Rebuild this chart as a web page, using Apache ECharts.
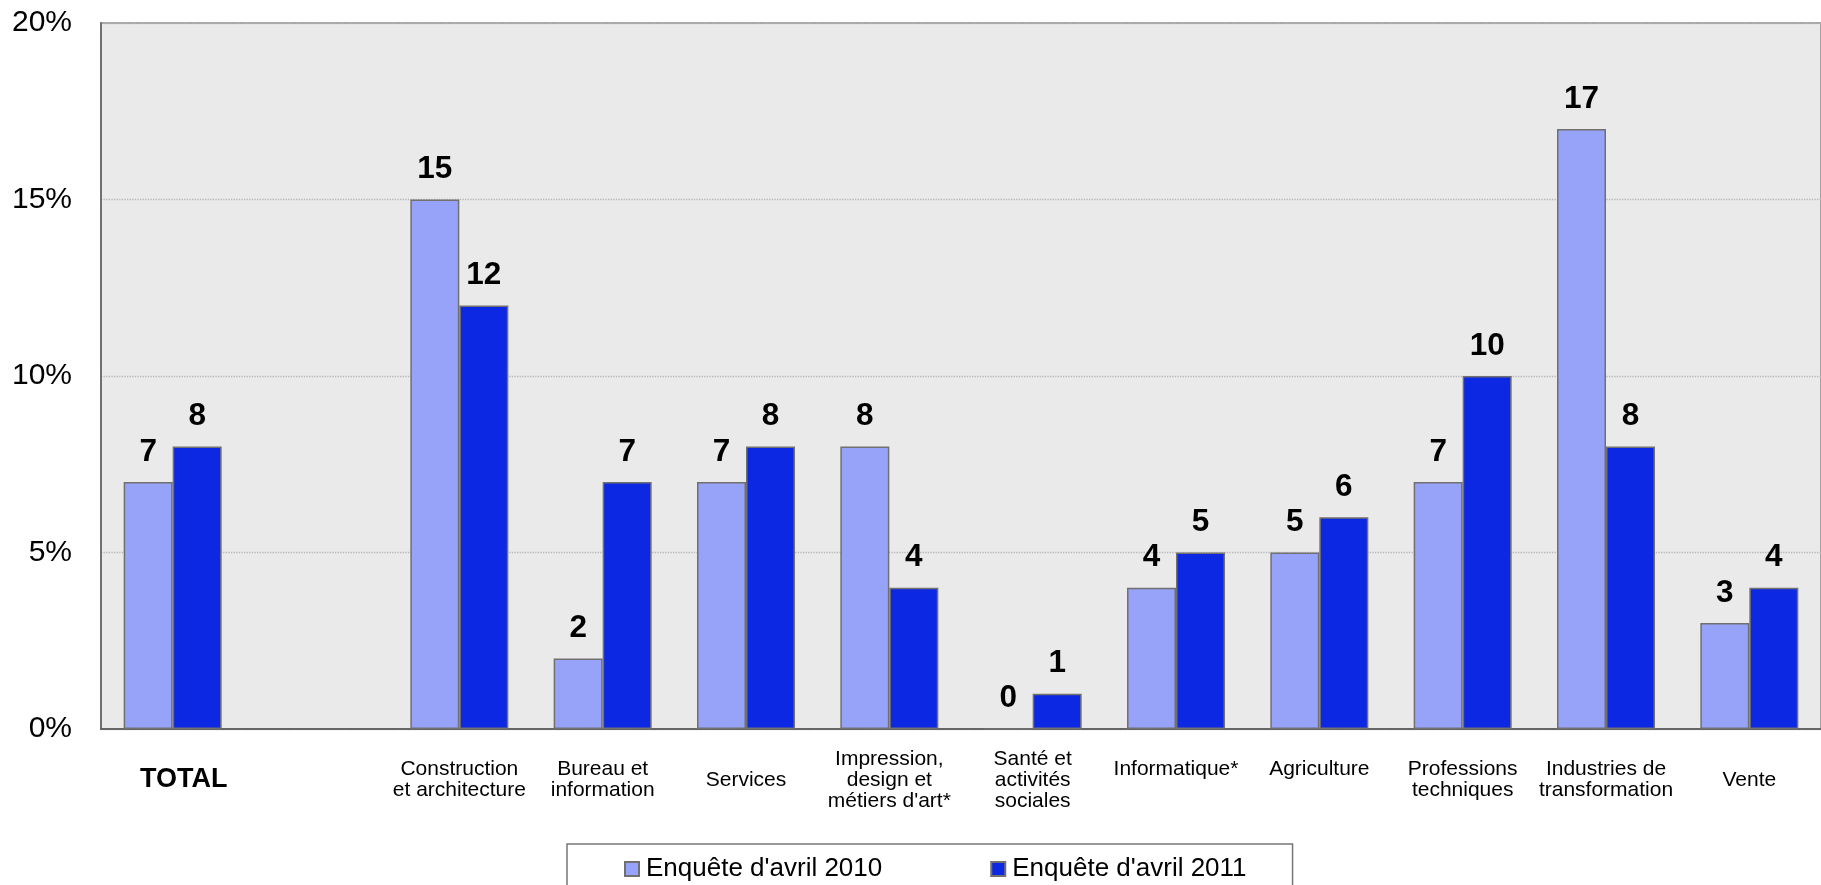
<!DOCTYPE html>
<html>
<head>
<meta charset="utf-8">
<script src="https://cdn.jsdelivr.net/npm/echarts@6/dist/echarts.min.js"></script>
<style>
html,body{margin:0;padding:0;background:#fff;}
#chart{width:1821px;height:885px;}
</style>
</head>
<body>
<div id="chart"></div>
<script>
const categories = ['TOTAL', '', 'Construction\net architecture', 'Bureau et\ninformation', 'Services',
  'Impression,\ndesign et\nmétiers d\'art*', 'Santé et\nactivités\nsociales', 'Informatique*',
  'Agriculture', 'Professions\ntechniques', 'Industries de\ntransformation', 'Vente'];
const topAlignedLabels = ['Informatique*', 'Agriculture'];
const series2010 = [7, '-', 15, 2, 7, 8, 0, 4, 5, 7, 17, 3];
const series2011 = [8, '-', 12, 7, 8, 4, 1, 5, 6, 10, 8, 4];
const seriesNames = ["Enquête d'avril 2010", "Enquête d'avril 2011"];
const yTicks = [0, 5, 10, 15, 20];

const FONT = '"Liberation Sans", Arial, Helvetica, sans-serif';
const chart = echarts.init(document.getElementById('chart'), null, {renderer: 'canvas'});

const barLabel = {
  show: true, position: 'top', distance: 14,
  fontFamily: FONT, fontSize: 31.5, fontWeight: 'bold', color: '#000'
};

chart.setOption({
  animation: false,
  backgroundColor: '#fff',
  grid: {
    left: 101, top: 23, right: -11, bottom: 156,
    show: true, backgroundColor: '#EAEAEA', borderColor: '#8a8a8a', borderWidth: 1.5
  },
  legend: {
    left: 567, top: 844,
    padding: [12, 46, 40, 57],
    itemGap: 108, itemWidth: 14, itemHeight: 14,
    borderColor: '#777', borderWidth: 1.5, backgroundColor: '#fff',
    icon: 'rect',
    textStyle: {fontFamily: FONT, fontSize: 26, color: '#000', padding: [0, 0, 0, 2]},
    data: seriesNames
  },
  xAxis: {
    type: 'category', data: categories,
    axisLine: {show: true, lineStyle: {color: '#666', width: 2}},
    axisTick: {show: false},
    axisLabel: {
      interval: 0, margin: 51, verticalAlign: 'middle',
      fontFamily: FONT, fontSize: 21, lineHeight: 21, color: '#000',
      formatter: function (v) {
        if (v === 'TOTAL') return '{t|' + v + '}';
        if (topAlignedLabels.indexOf(v) >= 0) return v + '\n\u00a0';
        return v;
      },
      rich: {t: {fontFamily: FONT, fontSize: 27, fontWeight: 'bold', color: '#000', padding: [0, 0, 0, 22]}}
    }
  },
  yAxis: {
    type: 'value', min: yTicks[0], max: yTicks[yTicks.length - 1], interval: 5,
    axisLine: {show: true, lineStyle: {color: '#707070', width: 2}},
    axisTick: {show: false},
    splitLine: {show: true, lineStyle: {color: '#b5b5b5', type: 'dotted', width: 1.3}},
    axisLabel: {fontFamily: FONT, fontSize: 30, color: '#000', margin: 29, verticalAlign: 'middle', padding: [10, 0, 0, 0], formatter: '{value}%'}
  },
  series: [
    {
      name: seriesNames[0], type: 'bar', data: series2010,
      barWidth: 49, barGap: '0%',
      itemStyle: {color: '#96A3F8', borderColor: '#707070', borderWidth: 1.5},
      label: barLabel
    },
    {
      name: seriesNames[1], type: 'bar', data: series2011,
      barWidth: 49, barGap: '0%',
      itemStyle: {color: '#0D28E2', borderColor: '#707070', borderWidth: 1.5},
      label: barLabel
    }
  ]
});
</script>
</body>
</html>
